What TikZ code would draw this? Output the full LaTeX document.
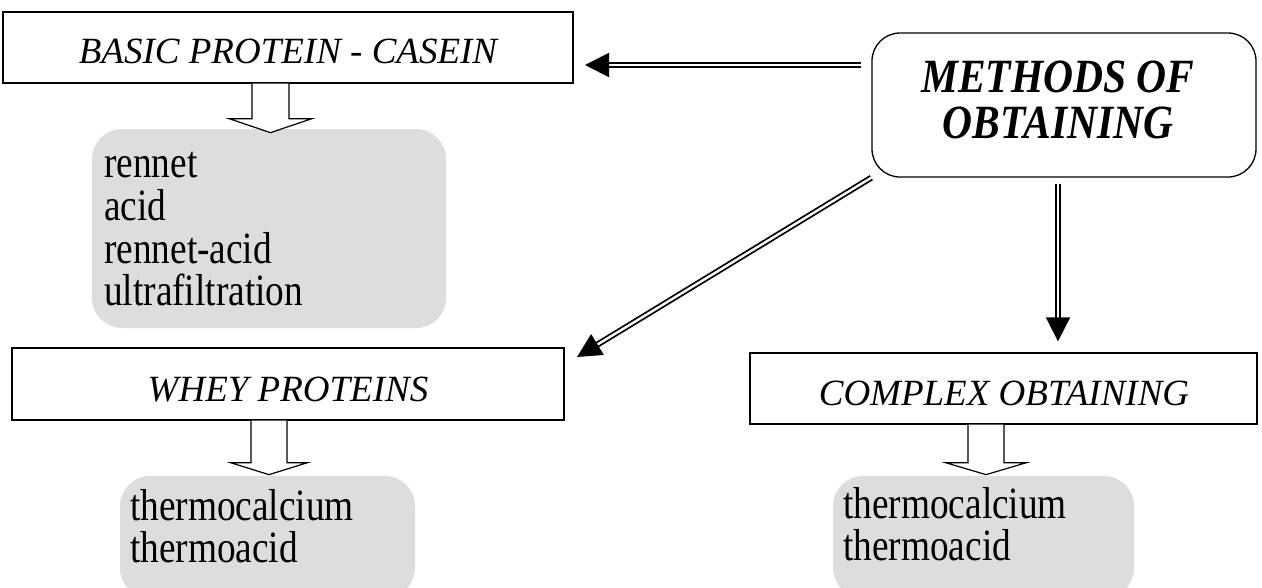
\documentclass[tikz,border=0pt]{standalone}
\usepackage{fontspec}
\usepackage{graphicx}
\setmainfont{Liberation Serif}
\usetikzlibrary{arrows.meta}
\definecolor{panelgray}{RGB}{221,221,221}
% vertically stretched text, baseline kept in place
\newcommand{\tallbody}[1]{\scalebox{1}[1.2]{#1}}
\newcommand{\tallmain}[1]{\scalebox{1}[1.15]{#1}}

\begin{document}
\begin{tikzpicture}[x=1pt, y=-1pt,
  frame/.style={draw, line width=1.3pt, inner sep=0pt, rectangle},
  panel/.style={fill=panelgray, rounded corners=30pt, inner sep=0pt, rectangle},
  boxlabel/.style={anchor=base, inner sep=0pt, font=\fontsize{37}{40}\selectfont\itshape},
  headlabel/.style={anchor=base, inner sep=0pt, font=\fontsize{41.5}{44}\selectfont\bfseries\itshape},
  item/.style={anchor=base west, inner sep=0pt, font=\fontsize{37.3}{43}\selectfont},
  dblarrow/.style={double, double distance=2.4pt, line width=1.8pt,
    -{Triangle[length=24pt, width=24pt]}},
  pics/blockarrow/.style args={#1/#2/#3/#4}{code={
    \draw[line width=1.2pt, fill=white, line join=miter]
      (-#1/2,0) -- (-#1/2,#3) -- (-#2/2,#3) -- (0,#4) -- (#2/2,#3) -- (#1/2,#3) -- (#1/2,0);
  }}]

\useasboundingbox (0,0) rectangle (1262,587);
\clip (0,0) rectangle (1262,587);

% grey result panels
\node[panel, minimum width=354pt, minimum height=199pt] (caseinlist) at (269,228.5) {};
\node[panel, minimum width=295pt, minimum height=122pt] (wheylist) at (267.5,537) {};
\node[panel, minimum width=301pt, minimum height=122pt] (complexlist) at (983.5,537) {};

% framed headings
\node[frame, minimum width=570pt, minimum height=71pt] (casein) at (288,47.5) {};
\node[frame, minimum width=552pt, minimum height=72pt] (whey) at (288,384) {};
\node[frame, minimum width=507pt, minimum height=71pt] (complex) at (1003.5,388.5) {};
\node[frame, rounded corners=28pt, minimum width=384pt, minimum height=144pt] (meth) at (1064,105) {};

\node[boxlabel] (caseintxt) at (288,63) {BASIC PROTEIN - CASEIN};
\node[boxlabel] (wheytxt) at (288,401) {WHEY PROTEINS};
\node[boxlabel] (complextxt) at (1004,405) {COMPLEX OBTAINING};
\node[headlabel] (methA) at (1058,92) {\tallmain{METHODS OF}};
\node[headlabel] (methB) at (1058,138) {\tallmain{OBTAINING}};

% list entries
\node[item] (c1) at (104,177.5) {\tallbody{rennet}};
\node[item] (c2) at (104,220) {\tallbody{acid}};
\node[item] (c3) at (104,263) {\tallbody{rennet-acid}};
\node[item] (c4) at (104,305) {\tallbody{ultrafiltration}};
\node[item] (w1) at (130,520) {\tallbody{thermocalcium}};
\node[item] (w2) at (130,562) {\tallbody{thermoacid}};
\node[item] (x1) at (843,518) {\tallbody{thermocalcium}};
\node[item] (x2) at (843,560) {\tallbody{thermoacid}};

% hollow block arrows from headings to their lists
\pic at (270.5,0 |- casein.south) {blockarrow={37/83/35/49}};
\pic at (269,0 |- whey.south) {blockarrow={36/77/42/54}};
\pic at (986,0 |- complex.south) {blockarrow={36/81/38/50}};

% double arrows leaving the central box
\coordinate (tipA) at (585,65);
\coordinate (tipB) at (577,357);
\draw[dblarrow, shorten <=10pt] (meth.west |- tipA) -- (tipA);
\draw[dblarrow] (meth.south west) -- (tipB);
\draw[dblarrow, shorten <=6pt, shorten >=11pt] (1058,0 |- meth.south) -- (1058,0 |- complex.north);
\end{tikzpicture}
\end{document}
